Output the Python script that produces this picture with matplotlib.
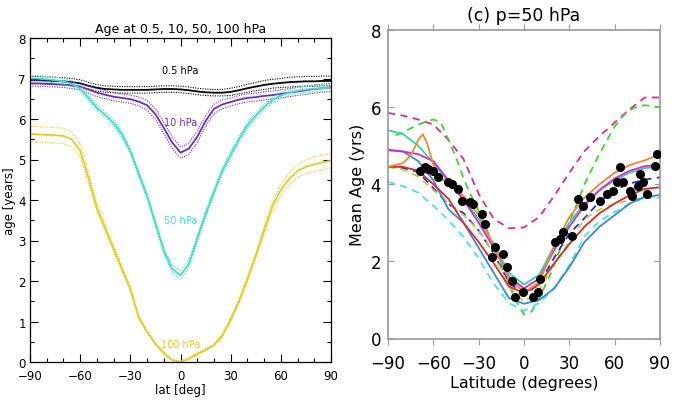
import numpy as np
import matplotlib.pyplot as plt
from matplotlib.ticker import MultipleLocator

# ---- left panel: model age at 4 levels (5 deg grid) ----
lat5 = np.arange(-90, 91, 5)

age_05 = [6.96, 6.96, 6.95, 6.94, 6.93, 6.91, 6.88, 6.82, 6.77, 6.74, 6.73, 6.72, 6.72,
          6.72, 6.72, 6.73, 6.74, 6.74, 6.73, 6.71, 6.68, 6.66, 6.65, 6.65, 6.67, 6.71,
          6.76, 6.80, 6.84, 6.87, 6.89, 6.91, 6.92, 6.93, 6.93, 6.94, 6.94]
spr_05 = [0.09, 0.09, 0.09, 0.09, 0.09, 0.09, 0.09, 0.08, 0.08, 0.08, 0.08, 0.08, 0.08,
          0.08, 0.08, 0.08, 0.08, 0.08, 0.08, 0.08, 0.08, 0.08, 0.08, 0.08, 0.09, 0.09,
          0.10, 0.10, 0.11, 0.11, 0.11, 0.12, 0.12, 0.12, 0.12, 0.12, 0.12]

age_10 = [6.88, 6.88, 6.87, 6.86, 6.85, 6.83, 6.80, 6.73, 6.65, 6.60, 6.55, 6.52, 6.49,
          6.43, 6.34, 6.12, 5.78, 5.42, 5.17, 5.27, 5.56, 5.95, 6.25, 6.36, 6.42, 6.48,
          6.52, 6.54, 6.57, 6.59, 6.62, 6.65, 6.68, 6.71, 6.74, 6.76, 6.78]
spr_10 = [0.07, 0.07, 0.07, 0.07, 0.07, 0.08, 0.08, 0.09, 0.10, 0.10, 0.10, 0.10, 0.10,
          0.11, 0.12, 0.13, 0.14, 0.14, 0.14, 0.14, 0.14, 0.13, 0.12, 0.11, 0.10, 0.10,
          0.10, 0.10, 0.10, 0.10, 0.10, 0.10, 0.10, 0.10, 0.10, 0.10, 0.10]

age_50 = [7.00, 7.00, 6.98, 6.96, 6.93, 6.87, 6.75, 6.52, 6.27, 6.10, 5.90, 5.62, 5.20,
          4.65, 4.10, 3.42, 2.75, 2.30, 2.14, 2.42, 3.05, 3.65, 4.20, 4.72, 5.12, 5.50,
          5.85, 6.08, 6.30, 6.47, 6.58, 6.65, 6.70, 6.73, 6.75, 6.76, 6.77]
spr_50 = [0.07, 0.07, 0.07, 0.07, 0.07, 0.07, 0.07, 0.07, 0.07, 0.07, 0.07, 0.07, 0.07,
          0.07, 0.07, 0.08, 0.08, 0.09, 0.10, 0.09, 0.08, 0.08, 0.07, 0.07, 0.07, 0.07,
          0.07, 0.07, 0.07, 0.07, 0.07, 0.07, 0.08, 0.08, 0.08, 0.08, 0.08]

age_100 = [5.63, 5.62, 5.61, 5.60, 5.58, 5.50, 5.22, 4.55, 3.80, 3.30, 2.80, 2.30, 1.80,
           1.10, 0.75, 0.45, 0.22, 0.05, 0.00, 0.08, 0.20, 0.30, 0.42, 0.65, 1.05, 1.50,
           2.05, 2.62, 3.25, 3.85, 4.25, 4.52, 4.72, 4.82, 4.88, 4.93, 4.97]
spr_100 = [0.19, 0.19, 0.19, 0.19, 0.19, 0.18, 0.16, 0.13, 0.10, 0.09, 0.08, 0.07, 0.06,
           0.05, 0.04, 0.03, 0.03, 0.02, 0.02, 0.02, 0.03, 0.03, 0.03, 0.04, 0.05, 0.06,
           0.07, 0.08, 0.09, 0.11, 0.13, 0.15, 0.16, 0.17, 0.18, 0.18, 0.18]

levels = ['0.5 hPa', '10 hPa', '50 hPa', '100 hPa']
level_colors = ['black', '#6a2cc8', '#3ee0c8', '#e8cc22']
level_label_y = [7.22, 5.93, 3.5, 0.45]

# ---- right panel: p=50 hPa model ensemble (10 deg grid) ----
lat10 = np.arange(-90, 91, 10)

pink_dash = [5.85, 5.78, 5.68, 5.55, 5.15, 4.65, 3.75, 3.10, 2.86, 2.88, 3.15, 3.70, 4.30, 4.86, 5.25, 5.60, 5.95, 6.25, 6.25]
green_dash_lat = np.arange(-85, 91, 5)
green_dash = [5.27, 5.35, 5.45, 5.55, 5.62, 5.68, 5.60, 5.15, 4.70, 4.15, 3.70, 3.30, 2.85,
              2.40, 1.90, 1.40, 0.95, 0.62, 0.70, 1.05, 1.45, 1.90, 2.45, 3.00, 3.50, 4.00,
              4.40, 4.80, 5.15, 5.50, 5.75, 5.92, 6.02, 6.05, 6.02, 6.00]
cyan_dash = [4.06, 3.95, 3.78, 3.44, 3.07, 2.63, 2.08, 1.42, 0.92, 0.72, 0.92, 1.30, 1.90, 2.65, 3.05, 3.28, 3.50, 3.65, 3.70]
blue_dash = [4.45, 4.42, 4.32, 3.90, 3.48, 3.25, 2.80, 2.20, 1.45, 1.15, 1.40, 2.10, 2.72, 3.12, 3.55, 3.85, 4.02, 4.12, 4.18]
olive_dash = [4.45, 4.38, 4.20, 3.85, 3.50, 3.20, 2.80, 2.20, 1.35, 0.95, 1.25, 1.95, 2.50, 3.10, 3.35, 3.50, 3.58, 3.65, 3.65]

orange_lat = [-90, -80, -75, -70, -67, -64, -60, -55, -50, -40, -30, -20, -10, 0, 10, 20, 30, 40, 50, 60, 70, 80, 90]
orange = [4.45, 4.55, 4.75, 5.15, 5.30, 5.05, 4.50, 4.15, 4.02, 3.70, 3.20, 2.40, 1.55, 1.20, 1.45, 2.40, 3.15, 3.65, 4.00, 4.30, 4.50, 4.62, 4.78]
magenta = [4.88, 4.85, 4.78, 4.60, 4.10, 3.60, 3.00, 2.35, 1.60, 1.30, 1.55, 2.30, 2.90, 3.45, 3.85, 4.15, 4.35, 4.47, 4.50]
teal = [5.40, 5.30, 5.00, 4.55, 4.05, 3.60, 3.10, 2.45, 1.70, 1.40, 1.65, 2.40, 3.00, 3.50, 3.85, 4.10, 4.30, 4.42, 4.45]
red = [4.45, 4.45, 4.35, 4.00, 3.62, 3.00, 2.50, 1.95, 1.35, 1.18, 1.40, 1.95, 2.45, 2.90, 3.25, 3.50, 3.72, 3.88, 3.92]
blue = [4.90, 4.85, 4.60, 4.10, 3.35, 3.00, 2.35, 1.70, 1.05, 0.90, 1.00, 1.30, 1.85, 2.50, 2.90, 3.20, 3.50, 3.68, 3.72]

obs_lat = [-68.8, -65.5, -63.5, -60.2, -56.9, -50.3, -47.6, -43.7, -41.0, -35.7, -33.7, -27.8,
           -25.8, -21.2, -19.2, -13.9, -11.2, -7.9, -6.0, -0.7, 6.0, 9.3, 10.6,
           20.5, 23.8, 25.8, 31.8, 35.7, 39.0, 43.7, 50.3, 54.9, 59.0, 61.5, 63.5, 65.5,
           70.2, 71.5, 75.5, 76.8, 78.8, 81.4, 86.7, 88.0]
obs_age = [4.34, 4.45, 4.40, 4.34, 4.19, 4.06, 4.01, 3.87, 3.57, 3.54, 3.48, 3.23,
           2.97, 2.11, 2.37, 2.19, 1.85, 1.49, 1.08, 1.21, 1.08, 1.21, 1.54,
           2.50, 2.58, 2.76, 2.66, 3.62, 3.44, 3.67, 3.57, 3.75, 3.82, 4.06, 4.45, 4.06,
           3.82, 3.70, 3.95, 4.27, 4.06, 3.75, 4.47, 4.78]

fig = plt.figure(figsize=(6.75, 4.02), dpi=100)

# ---------------- left ----------------
ax = fig.add_axes([30 / 675, 1 - 363 / 402, 301 / 675, 324 / 402])
curves = [(age_05, spr_05), (age_10, spr_10), (age_50, spr_50), (age_100, spr_100)]
for (mean, spr), name, col, ly in zip(curves, levels, level_colors, level_label_y):
    mean = np.array(mean)
    spr = np.array(spr)
    ax.plot(lat5, mean + spr, color=col, lw=0.8, ls=(0, (1, 1.2)))
    ax.plot(lat5, mean - spr, color=col, lw=0.8, ls=(0, (1, 1.2)))
    ax.plot(lat5, mean, color=col, lw=1.3)
    ax.text(0, ly, name, color=col, ha='center', va='center', fontsize=7)

ax.set_xlim(-90, 90)
ax.set_ylim(0, 8)
ax.xaxis.set_major_locator(MultipleLocator(30))
ax.xaxis.set_minor_locator(MultipleLocator(10))
ax.yaxis.set_major_locator(MultipleLocator(1))
ax.yaxis.set_minor_locator(MultipleLocator(0.5))
ax.tick_params(which='both', direction='in', top=True, right=True, labelsize=8.5, width=0.8)
ax.tick_params(which='major', length=6)
ax.tick_params(which='minor', length=3)
ax.tick_params(axis='x', pad=5)
ax.tick_params(axis='y', pad=3)
ax.set_title('Age at 0.5, 10, 50, 100 hPa', fontsize=9, pad=4)
ax.set_xlabel('lat [deg]', fontsize=8.5, labelpad=1)
ax.set_ylabel('age [years]', fontsize=8.5, labelpad=2)
for s in ax.spines.values():
    s.set_linewidth(0.9)

# ---------------- right ----------------
bx = fig.add_axes([388 / 675, 1 - 339.5 / 402, 272 / 675, 308.5 / 402])
dash = (0, (4, 3))
lw = 1.3
bx.plot(lat10, pink_dash, color='#e8288c', lw=lw, ls=dash)
bx.plot(green_dash_lat, green_dash, color='#3ed62a', lw=lw, ls=dash)
bx.plot(lat10, cyan_dash, color='#44e4f0', lw=lw, ls=dash)
bx.plot(lat10, blue_dash, color='#2030d0', lw=lw, ls=dash)
bx.plot(lat10, olive_dash, color='#b8d040', lw=lw, ls=dash)
bx.plot(lat10, blue, color='#3388e8', lw=lw)
bx.plot(lat10, red, color='#e02828', lw=lw)
bx.plot(lat10, teal, color='#2ad8a0', lw=lw)
bx.plot(lat10, magenta, color='#dd22dd', lw=lw)
bx.plot(orange_lat, orange, color='#f08828', lw=lw)
bx.plot(obs_lat, obs_age, 'o', color='black', ms=5.5, zorder=5)

bx.set_xlim(-90, 90)
bx.set_ylim(0, 8)
bx.set_xticks([-90, -60, -30, 0, 30, 60, 90])
bx.set_yticks([0, 2, 4, 6, 8])
bx.set_xticklabels(['\u221290', '\u221260', '\u221230', '0', '30', '60', '90'])
bx.tick_params(axis='x', direction='out', length=4, top=True, pad=7, labelsize=12, color='#999999')
bx.tick_params(axis='y', direction='in', length=4, right=True, pad=5, labelsize=12, color='#999999')
for s in bx.spines.values():
    s.set_color('#999999')
    s.set_linewidth(1.2)
bx.set_title('(c) p=50 hPa', fontsize=12.5, pad=7)
bx.set_xlabel('Latitude (degrees)', fontsize=11.5, labelpad=2)
bx.set_ylabel('Mean Age (yrs)', fontsize=11.5, labelpad=4)

fig.savefig('out.png', dpi=100)
